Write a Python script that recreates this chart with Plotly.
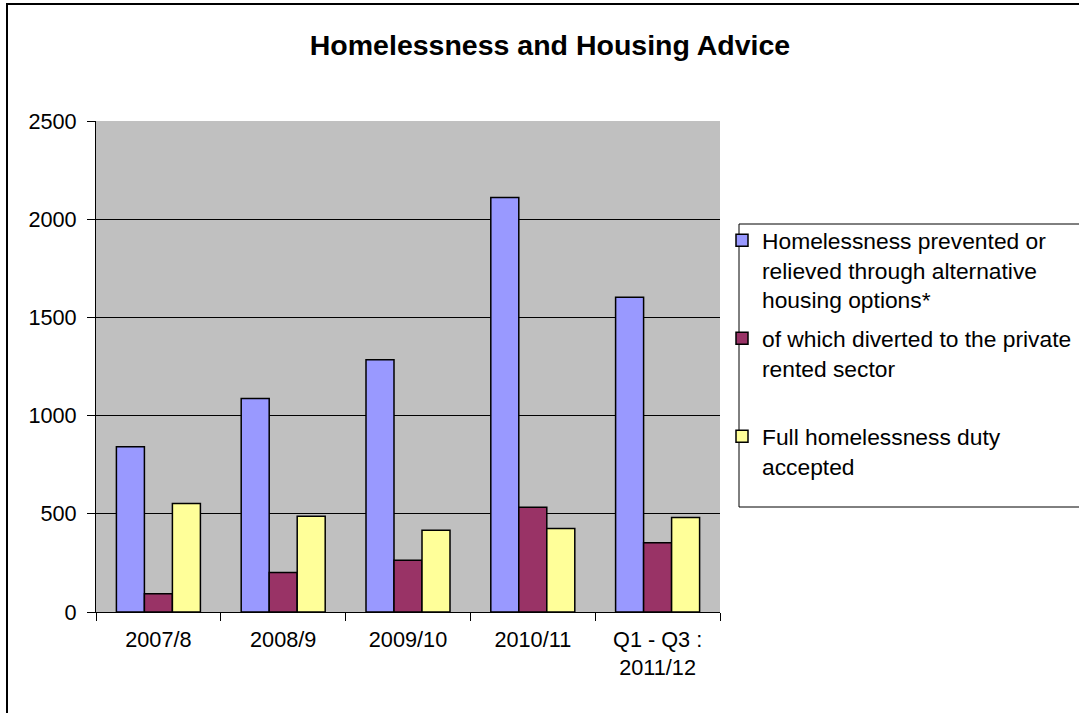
import plotly.graph_objects as go

categories = ["2007/8", "2008/9", "2009/10", "2010/11", "Q1 - Q3 :<br>2011/12"]
prevented = [841, 1087, 1285, 2111, 1602]
private_rented = [93, 201, 264, 533, 352]
full_duty = [552, 488, 416, 425, 481]

names = [
    "Homelessness prevented or<br>relieved through alternative<br>housing options*",
    "of which diverted to the private<br>rented sector<br>\u00a0",
    "Full homelessness duty<br>accepted",
]
colors = ["#9999FF", "#993366", "#FFFF99"]
series = [prevented, private_rented, full_duty]

FONT = "Arial, Liberation Sans, sans-serif"

fig = go.Figure()
for i, (nm, col, vals) in enumerate(zip(names, colors, series)):
    fig.add_trace(go.Bar(
        x=categories, y=vals, name=nm, legendgroup=f"g{i}",
        marker=dict(color=col, line=dict(color="black", width=1.5)),
    ))

W, H = 1079, 713
L, R, T, B = 96, 359, 121, 101
pw, ph = W - L - R, H - T - B

def px_x(p):
    return (p - L) / pw

def px_y(p):
    return (H - B - p) / ph

fig.update_layout(
    width=W, height=H,
    margin=dict(l=L, r=R, t=T, b=B, pad=0, autoexpand=False),
    paper_bgcolor="white",
    plot_bgcolor="#C0C0C0",
    font=dict(family=FONT, size=21.7, color="black"),
    barmode="group",
    bargap=0.327,
    bargroupgap=0,
    title=dict(
        text="<b>Homelessness and Housing Advice</b>",
        font=dict(family=FONT, size=28.5, color="black"),
        x=550 / W, xanchor="center", xref="container",
        y=1 - 45 / H, yanchor="middle", yref="container",
    ),
    showlegend=True,
    legend=dict(
        x=px_x(722), xanchor="left",
        y=px_y(219), yanchor="top",
        font=dict(family=FONT, size=22.8, color="black"),
        bgcolor="rgba(0,0,0,0)",
        borderwidth=0,
        tracegroupgap=6,
        traceorder="grouped",
        valign="top",
    ),
    xaxis=dict(
        showline=True, linecolor="black", linewidth=1,
        ticks="outside", tickson="boundaries", ticklen=8, tickcolor="black",
        showgrid=False,
        ticklabelstandoff=8,
        tickfont=dict(family=FONT, size=21.7, color="black"),
    ),
    yaxis=dict(
        range=[0, 2500],
        tickvals=[0, 500, 1000, 1500, 2000, 2500],
        showline=True, linecolor="black", linewidth=1,
        ticks="outside", ticklen=8, tickcolor="black",
        showgrid=True, gridcolor="black", gridwidth=1,
        zeroline=False,
        ticklabelstandoff=6,
        tickfont=dict(family=FONT, size=21.7, color="black"),
    ),
    shapes=[
        dict(type="rect", xref="paper", yref="paper",
             x0=px_x(7), x1=px_x(1200), y0=px_y(800), y1=px_y(4),
             line=dict(color="black", width=2), fillcolor="rgba(0,0,0,0)", layer="below"),
        dict(type="rect", xref="paper", yref="paper",
             x0=px_x(739), x1=px_x(1200), y0=px_y(507), y1=px_y(224),
             line=dict(color="black", width=1), fillcolor="rgba(0,0,0,0)"),
    ],
)

fig.write_html("out.html")
